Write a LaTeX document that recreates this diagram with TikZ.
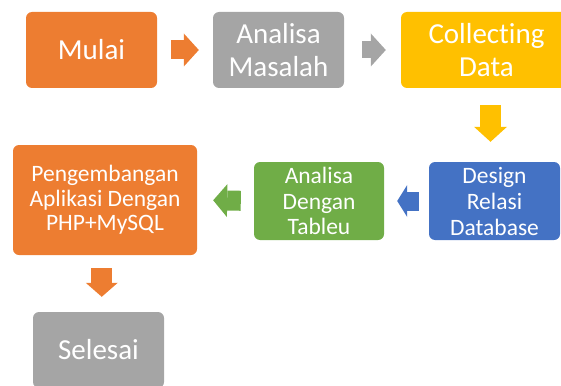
\documentclass[tikz,border=0pt]{standalone}
\usepackage{fontspec}
\setmainfont[Ligatures=NoCommon]{Carlito}
\usetikzlibrary{arrows.meta}
\usetikzlibrary{calc}
\definecolor{msorange}{HTML}{ED7D31}
\definecolor{msgray}{HTML}{A5A5A5}
\definecolor{msyellow}{HTML}{FFC000}
\definecolor{msblue}{HTML}{4472C4}
\definecolor{msgreen}{HTML}{70AD47}

\begin{document}
\begin{tikzpicture}[x=1pt,y=-1pt,
    box/.style={rectangle,rounded corners=6pt,fill=#1,text=white,align=center,
      inner sep=0pt,minimum width=131pt,minimum height=76pt},
    flow/.style={draw=#1,line width=19pt,
      -{Triangle[length=15pt,width=33pt,line width=0pt]}}]
  \useasboundingbox (0,0) rectangle (561,385);

  \node[box=msorange,font=\fontsize{29}{33}\selectfont] (mulai) at (91.5,50) {Mulai};
  \node[box=msgray,font=\fontsize{29}{33}\selectfont] (masalah) at (278.5,50) {Analisa\\Masalah};
  \node[box=msyellow,minimum width=171pt,font=\fontsize{29}{33}\selectfont] (collect) at (486.5,50) {Collecting\\Data};
  \node[box=msblue,minimum height=78pt,font=\fontsize{23.5}{26}\selectfont] (design) at (494.5,201) {Design\\Relasi\\Database};
  \node[box=msgreen,minimum width=130pt,minimum height=78pt,font=\fontsize{23.5}{25.5}\selectfont] (tableu) at (319,201) {Analisa\\Dengan\\Tableu};
  \node[box=msorange,minimum width=184pt,minimum height=110pt,font=\fontsize{23.5}{24.5}\selectfont] (apps) at (105,200) {Pengembangan\\Aplikasi Dengan\\PHP+MySQL};
  \node[box=msgray,font=\fontsize{29}{33}\selectfont] (selesai) at (98.5,350) {Selesai};

  \coordinate (ydown) at ($(collect.south)!.5!(design.north)$);
  \coordinate (odown) at ($(apps.south)!.5!(selesai.north)$);

  \draw[flow=msorange,shorten <=14pt,shorten >=14pt] (mulai.east) -- (masalah.west);
  \draw[flow=msgray,line width=17pt,shorten <=18pt,shorten >=15pt] (masalah.east) -- (collect.west);
  \draw[flow=msyellow,line width=21pt,shorten <=17pt,shorten >=20pt] (ydown |- collect.south) -- (ydown |- design.north);
  \draw[flow=msblue,-{Triangle[length=10pt,width=32pt,line width=0pt]},shorten <=10pt,shorten >=13pt] (design.west) -- (tableu.east);
  \draw[flow=msgreen,line width=20pt,-{Triangle[length=14pt,width=33pt,line width=0pt]},shorten <=13pt,shorten >=16pt] (tableu.west) -- (apps.east);
  \draw[flow=msorange,line width=21pt,-{Triangle[length=14pt,width=32pt,line width=0pt]},shorten <=13pt,shorten >=15pt] (odown |- apps.south) -- (odown |- selesai.north);
\end{tikzpicture}
\end{document}
